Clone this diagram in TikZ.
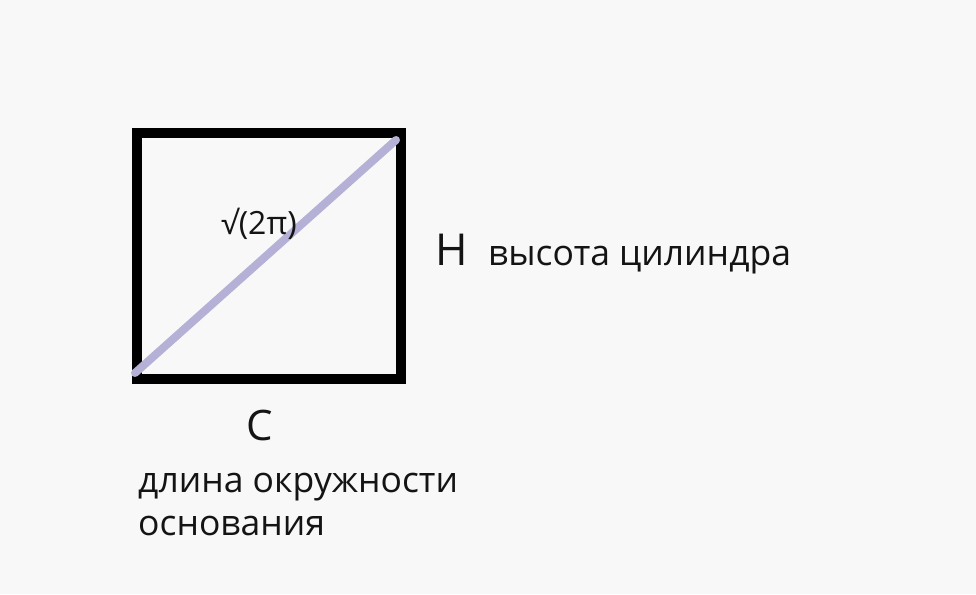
\documentclass[tikz,border=0pt]{standalone}
\usepackage{fontspec}
\setmainfont{Open Sans}
\definecolor{bg}{RGB}{248,248,248}
\definecolor{ink}{RGB}{20,20,20}
\definecolor{diag}{RGB}{180,176,214}
\tikzset{
  lbl/.style={anchor=base west, inner sep=0pt, text=ink},
  frame/.style={draw=black, line width=10pt, minimum width=264pt, minimum height=246pt, inner sep=0pt},
}
\begin{document}
\begin{tikzpicture}[x=1pt,y=-1pt]
\fill[bg] (0,0) rectangle (976,594);
\useasboundingbox (0,0) rectangle (976,594);
\node[frame] (sq) at (269,256) {};
\coordinate (d1) at (135,373);
\coordinate (d2) at (396,140);
\draw[diag, line width=8pt, line cap=round] (d1) -- (d2);
\node[lbl, font=\fontsize{32}{38}\selectfont] (root) at (221,234) {√(2π)};
\node[lbl, font=\fontsize{44}{52}\selectfont] (h) at (435,265) {H};
\node[lbl, font=\fontsize{35.5}{42}\selectfont] (ht) at (488,265) {высота цилиндра};
\node[lbl, font=\fontsize{42}{50}\selectfont] (c) at (246,440) {C};
\node[lbl, font=\fontsize{35.5}{42}\selectfont] (c1) at (138,492) {длина окружности};
\node[lbl, font=\fontsize{35.5}{42}\selectfont] (c2) at (138,535) {основания};
\end{tikzpicture}
\end{document}
